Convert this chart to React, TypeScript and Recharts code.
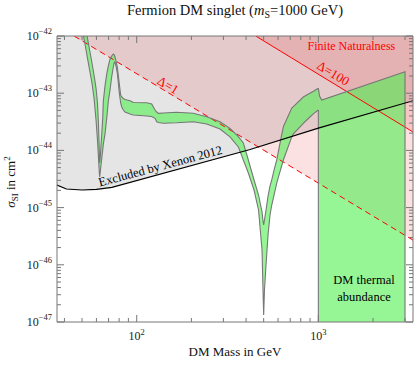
import React from 'react';
import { ComposedChart, Area, Line, XAxis, YAxis, ReferenceDot } from 'recharts';

const FONT = '"Liberation Serif", "Times New Roman", serif';
const FRAME = '#777';
const RED = '#f00';
const GREEN = '#50f050';
const OUTLINE = '#777';
const W = 417;
const H = 365;

// axis ranges (GeV, cm^2)
const X_DOMAIN = [36.4, 3320];
const SIGMA_TOP = 1e-42;
const SIGMA_BOTTOM = 1e-47;

const X_TICKS = [40, 50, 60, 70, 80, 90, 100, 200, 300, 400, 500, 600, 700, 800, 900, 1000, 2000, 3000];
const Y_DECADES = [-47, -46, -45, -44, -43, -42];
const Y_MINOR_STEPS = [2, 3, 4, 5, 6, 7, 8, 9];

// DM band (lower / upper edge of sigma_SI)
const bandMass = [
  50.0, 51.3, 52.6, 53.9, 55.3, 56.7, 58.2, 59.7, 60.8, 61.6, 62.2, 62.5, 63.0, 63.6, 64.2, 65.0, 65.5,
  66.9, 68.4, 69.8, 71.3, 72.8, 74.3, 75.3, 75.9, 76.9, 78.2, 79.4, 80.2, 81.6, 82.7, 84.4, 86.2, 91.9,
  95.8, 113.5, 120.9, 126.1, 128.9, 131.5, 140.1, 166.1, 205, 242.9, 287.5, 326.4, 362.7, 386.4, 411.7,
  442.5, 468.5, 489.8, 495, 500, 505, 515.2, 528.4, 542, 553.9, 570.3, 590.1, 607.6, 641.7, 713.8, 728.4,
  826.7, 863.1, 945, 1000,
];
const bandLow = [
  1.38e-42, 8.86e-43, 5.69e-43, 3.66e-43, 2.35e-43, 1.51e-43, 8.24e-44, 3.4e-44, 1.52e-44, 7.36e-45,
  4.19e-45, 3.43e-45, 4.19e-45, 5.56e-45, 7.36e-45, 1.02e-44, 1.29e-44, 1.94e-44, 3.68e-44, 7.3e-44,
  1.14e-43, 1.92e-43, 2.87e-43, 3.51e-43, 3.51e-43, 2.99e-43, 2.25e-43, 1.39e-43, 1.01e-43, 6.74e-44,
  5.74e-44, 5.08e-44, 4.69e-44, 4.33e-44, 4.16e-44, 3.99e-44, 3.91e-44, 3.64e-44, 3.17e-44, 3.07e-44,
  2.98e-44, 3.04e-44, 3.17e-44, 2.89e-44, 2.37e-44, 1.72e-44, 1.15e-44, 6.79e-45, 4.03e-45, 2.03e-45,
  9.08e-46, 1.81e-46, 4.43e-47, 1.33e-47, 3.63e-47, 9.92e-47, 3.32e-46, 7.42e-46, 1.11e-45, 1.66e-45,
  2.69e-45, 3.72e-45, 6.79e-45, 1.72e-44, 1.94e-44, 2.98e-44, 3.4e-44, 4.45e-44, 5.08e-44,
];
const bandHigh = [
  3.09e-42, 1.98e-42, 1.27e-42, 8.18e-43, 5.25e-43, 3.37e-43, 2.08e-43, 1.23e-43, 6.74e-44, 2.78e-44,
  1.02e-44, 6.02e-45, 7.67e-45, 1.24e-44, 1.94e-44, 3.68e-44, 7.3e-44, 1.34e-43, 2.17e-43, 2.99e-43,
  3.96e-43, 4.47e-43, 4.84e-43, 4.65e-43, 4.29e-43, 3.66e-43, 2.87e-43, 1.92e-43, 1.45e-43, 9.3e-44,
  8.58e-44, 8.08e-44, 7.76e-44, 7.39e-44, 6.88e-44, 6.82e-44, 6.47e-44, 5.08e-44, 4.69e-44, 4.45e-44,
  4.51e-44, 4.64e-44, 4.45e-44, 3.88e-44, 3.17e-44, 2.43e-44, 1.74e-44, 1.35e-44, 6.79e-45, 3.04e-45,
  1.66e-45, 8.38e-46, 6.07e-46, 4.96e-46, 6.07e-46, 9.08e-46, 1.59e-45, 2.39e-45, 3.04e-45, 4.54e-45,
  6.79e-45, 1.1e-44, 2.6e-44, 5.51e-44, 5.81e-44, 8.58e-44, 9.3e-44, 1.09e-43, 1.22e-43,
];

// DM thermal abundance region (m > mS)
const thermalMass = [1000, 1015, 1045, 3000, 3000];
const thermalTop = [1.22e-43, 8.93e-44, 7.61e-44, 2.38e-43, 1e-47];
const thermalEdgeMass = [1000, 1000];
const thermalEdgeSigma = [5.08e-44, 1e-47];

// Xenon 2012 limit
const xenonMass = [36.4, 41, 50, 60, 73, 421, 1000, 3320];
const xenonSigma = [2.48e-45, 2.12e-45, 2.03e-45, 2.08e-45, 2.26e-45, 1.04e-44, 2.45e-44, 7.39e-44];

// finite naturalness lines
const deltaOneMass = [45.2, 3320];
const deltaOneSigma = [1e-42, 2.7e-46];
const deltaHundredMass = [452, 3320];
const deltaHundredSigma = [1e-42, 2.1e-44];

const band = bandMass.map((m, i) => ({ m, lo: bandLow[i], hi: bandHigh[i] }));
const thermal = thermalMass.map((m, i) => ({ m, top: thermalTop[i] }));
const thermalEdge = thermalEdgeMass.map((m, i) => ({ m, s: thermalEdgeSigma[i] }));
const xenon = xenonMass.map((m, i) => ({ m, s: xenonSigma[i] }));
const deltaOne = deltaOneMass.map((m, i) => ({ m, s: deltaOneSigma[i] }));
const deltaHundred = deltaHundredMass.map((m, i) => ({ m, s: deltaHundredSigma[i] }));

const yTicks = Y_DECADES.flatMap((k) => {
  const base = parseFloat(`1e${k}`);
  return k === -42 ? [base] : [base, ...Y_MINOR_STEPS.map((s) => parseFloat(`${s}e${k}`))];
});

const isDecade = (v: number) => Math.abs(Math.log10(v) - Math.round(Math.log10(v))) < 1e-6;
const expOf = (v: number) => Math.round(Math.log10(v));
const tickLen = (v: number) => (isDecade(v) ? 7 : 4);

function BottomTick(props: any) {
  const { x, y, payload } = props;
  const v = payload.value as number;
  return (
    <g>
      <line x1={x} x2={x} y1={y} y2={y - tickLen(v)} stroke={FRAME} />
      {isDecade(v) && (
        <text x={x} y={y + 18} textAnchor="middle" fontFamily={FONT} fontSize={12} fill="#222">
          10<tspan dy={-5} fontSize={8.5}>{expOf(v)}</tspan>
        </text>
      )}
    </g>
  );
}

function TopTick(props: any) {
  const { x, y, payload } = props;
  return <line x1={x} x2={x} y1={y} y2={y + tickLen(payload.value)} stroke={FRAME} />;
}

function LeftTick(props: any) {
  const { x, y, payload } = props;
  const v = payload.value as number;
  return (
    <g>
      <line x1={x} x2={x + tickLen(v)} y1={y} y2={y} stroke={FRAME} />
      {isDecade(v) && (
        <text x={x - 5} y={y + 4} textAnchor="end" fontFamily={FONT} fontSize={12} fill="#222">
          10<tspan dy={-6} fontSize={8.5}>{`\u2212${-expOf(v)}`}</tspan>
        </text>
      )}
    </g>
  );
}

function RightTick(props: any) {
  const { x, y, payload } = props;
  return <line x1={x} x2={x - tickLen(payload.value)} y1={y} y2={y} stroke={FRAME} />;
}

function note(text: string, angle: number, color: string, size: number) {
  return (p: any) => (
    <text
      x={p.cx}
      y={p.cy}
      transform={`rotate(${angle} ${p.cx} ${p.cy})`}
      textAnchor="middle"
      dominantBaseline="central"
      fontFamily={FONT}
      fontSize={size}
      fill={color}
    >
      {text}
    </text>
  );
}

export default function App() {
  return (
    <div style={{ position: 'absolute', left: 0, top: 0, width: W, height: H, background: '#fff' }}>
      <ComposedChart width={W} height={H} margin={{ top: 0, right: 0, bottom: 0, left: 0 }}>
        <XAxis
          dataKey="m"
          type="number"
          scale="log"
          domain={X_DOMAIN}
          allowDataOverflow
          ticks={X_TICKS}
          interval={0}
          height={43}
          tickSize={0}
          tickMargin={0}
          tickLine={false}
          axisLine={{ stroke: FRAME }}
          tick={<BottomTick />}
        />
        <XAxis
          xAxisId="top"
          orientation="top"
          dataKey="m"
          type="number"
          scale="log"
          domain={X_DOMAIN}
          allowDataOverflow
          ticks={X_TICKS}
          interval={0}
          height={36}
          tickSize={0}
          tickMargin={0}
          tickLine={false}
          axisLine={{ stroke: FRAME }}
          tick={<TopTick />}
        />
        <YAxis
          type="number"
          scale="log"
          domain={[SIGMA_BOTTOM, SIGMA_TOP]}
          allowDataOverflow
          ticks={yTicks}
          interval={0}
          width={57}
          tickSize={0}
          tickMargin={0}
          tickLine={false}
          axisLine={{ stroke: FRAME }}
          tick={<LeftTick />}
        />
        <YAxis
          yAxisId="right"
          orientation="right"
          type="number"
          scale="log"
          domain={[SIGMA_BOTTOM, SIGMA_TOP]}
          allowDataOverflow
          ticks={yTicks}
          interval={0}
          width={4}
          tickSize={0}
          tickMargin={0}
          tickLine={false}
          axisLine={{ stroke: FRAME }}
          tick={<RightTick />}
        />

        {/* excluded region and naturalness regions */}
        <Area data={xenon} dataKey={(d: any) => [d.s, SIGMA_TOP]} type="linear" stroke="none" fill="#e5e5e5" fillOpacity={1} isAnimationActive={false} />
        <Area data={deltaOne} dataKey={(d: any) => [d.s, SIGMA_TOP]} type="linear" stroke="none" fill="#e62828" fillOpacity={0.14} isAnimationActive={false} />
        <Area data={deltaHundred} dataKey={(d: any) => [d.s, SIGMA_TOP]} type="linear" stroke="none" fill="#e62828" fillOpacity={0.15} isAnimationActive={false} />
        <Line data={deltaOne} dataKey="s" type="linear" stroke={RED} strokeWidth={1} strokeDasharray="6 4" dot={false} activeDot={false} isAnimationActive={false} />
        <Line data={deltaHundred} dataKey="s" type="linear" stroke={RED} strokeWidth={1} dot={false} activeDot={false} isAnimationActive={false} />

        {/* DM band */}
        <Area data={band} dataKey={(d: any) => [d.lo, d.hi]} type="linear" stroke="none" fill={GREEN} fillOpacity={0.6} isAnimationActive={false} />
        <Area data={thermal} dataKey={(d: any) => [SIGMA_BOTTOM, d.top]} type="linear" stroke="none" fill={GREEN} fillOpacity={0.6} isAnimationActive={false} />
        <Line data={band} dataKey="lo" type="linear" stroke={OUTLINE} strokeWidth={1.1} dot={false} activeDot={false} isAnimationActive={false} />
        <Line data={band} dataKey="hi" type="linear" stroke={OUTLINE} strokeWidth={1.1} dot={false} activeDot={false} isAnimationActive={false} />
        <Line data={thermal} dataKey="top" type="linear" stroke={OUTLINE} strokeWidth={1.1} dot={false} activeDot={false} isAnimationActive={false} />
        <Line data={thermalEdge} dataKey="s" type="linear" stroke={OUTLINE} strokeWidth={1.1} dot={false} activeDot={false} isAnimationActive={false} />

        <Line data={xenon} dataKey="s" type="linear" stroke="#000" strokeWidth={1.1} dot={false} activeDot={false} isAnimationActive={false} />

        <ReferenceDot x={149} y={1.39e-43} r={0} shape={note('\u0394=1', 31, RED, 13)} />
        <ReferenceDot x={1209} y={2.23e-43} r={0} shape={note('\u0394=100', 31, RED, 13)} />
        <ReferenceDot x={1521} y={6.68e-43} r={0} shape={note('Finite Naturalness', 0, RED, 12)} />
        <ReferenceDot x={135} y={5.3e-45} r={0} shape={note('Excluded by Xenon 2012', -15, '#000', 12.5)} />
        <ReferenceDot x={1785} y={5.42e-47} r={0} shape={note('DM thermal', 0, '#000', 12.5)} />
        <ReferenceDot x={1785} y={2.73e-47} r={0} shape={note('abundance', 0, '#000', 12.5)} />
      </ComposedChart>

      <svg width={W} height={H} style={{ position: 'absolute', left: 0, top: 0, pointerEvents: 'none' }} fontFamily={FONT}>
        <text x={235} y={15} textAnchor="middle" fontSize={14.5} fill="#111">
          Fermion DM singlet (<tspan fontStyle="italic">m</tspan>
          <tspan fontSize={10} dy={3}>S</tspan>
          <tspan dy={-3}>=1000 GeV)</tspan>
        </text>
        <text x={235} y={356} textAnchor="middle" fontSize={13} fill="#111">
          DM Mass in GeV
        </text>
        <text transform="translate(15,182) rotate(-90)" textAnchor="middle" fontSize={13} fill="#111">
          <tspan fontStyle="italic">σ</tspan>
          <tspan fontSize={9} dy={3}>SI</tspan>
          <tspan dy={-3}> in cm</tspan>
          <tspan fontSize={9} dy={-5}>2</tspan>
        </text>
      </svg>
    </div>
  );
}
